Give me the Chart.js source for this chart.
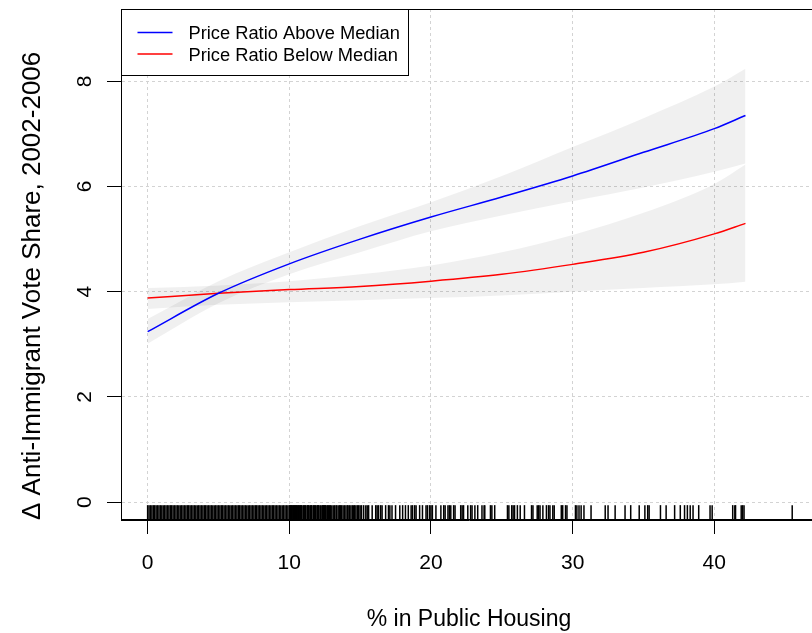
<!DOCTYPE html>
<html>
<head>
<meta charset="utf-8">
<script src="https://cdn.jsdelivr.net/npm/chart.js@4"></script>
<style>
  html, body { margin: 0; padding: 0; background: #fff; width: 812px; height: 633px; overflow: hidden; }
  canvas { display: block; }
</style>
</head>
<body>
<canvas id="plot" width="826" height="633"></canvas>
<script>
// fitted curves, x = % in public housing
const xs = [0, 5, 10, 15, 20, 25, 30, 35, 40, 42.2];
const aboveFit = [3.24, 3.97, 4.53, 5.0, 5.42, 5.8, 6.2, 6.65, 7.1, 7.35];
const aboveHi  = [3.48, 4.2, 4.75, 5.25, 5.7, 6.2, 6.75, 7.3, 7.9, 8.24];
const aboveLo  = [3.01, 3.78, 4.33, 4.75, 5.15, 5.45, 5.72, 5.98, 6.28, 6.44];
const belowFit = [3.88, 3.97, 4.04, 4.1, 4.2, 4.33, 4.52, 4.75, 5.1, 5.3];
const belowHi  = [4.07, 4.12, 4.2, 4.33, 4.5, 4.75, 5.08, 5.5, 6.05, 6.42];
const belowLo  = [3.67, 3.75, 3.8, 3.84, 3.88, 3.93, 4.0, 4.07, 4.14, 4.19];

// rug of observed x values
const rugX = [
  0,0.1,0.2,0.3,0.4,0.5,0.6,0.7,0.8,0.9,1,1.1,1.2,1.3,1.4,1.5,1.6,1.7,1.8,1.9,
  2,2.1,2.2,2.3,2.4,2.5,2.6,2.7,2.8,2.9,3,3.1,3.2,3.3,3.4,3.5,3.6,3.7,3.8,3.9,
  4,4.1,4.2,4.3,4.4,4.5,4.6,4.7,4.8,4.9,5,5.1,5.2,5.3,5.4,5.5,5.6,5.7,5.8,5.9,
  6,6.1,6.2,6.3,6.4,6.5,6.6,6.7,6.8,6.9,7,7.1,7.2,7.3,7.4,7.5,7.6,7.7,7.8,7.9,
  8,8.1,8.2,8.3,8.4,8.5,8.6,8.7,8.8,8.9,9,9.1,9.2,9.3,9.4,9.5,9.6,9.7,9.8,9.9,10,
  10.05,10.1,10.15,10.2,10.25,10.3,10.35,10.4,10.45,10.5,10.55,10.6,10.65,10.7,10.75,10.8,10.85,
  10.9,11.0,11.05,11.1,11.15,11.25,11.3,11.35,11.4,11.5,11.55,11.6,11.7,11.75,11.8,11.85,11.95,
  12.0,12.05,12.1,12.2,12.3,12.35,12.4,12.45,12.5,12.55,12.6,12.7,12.75,12.85,12.9,
  13.0,13.1,13.2,13.3,13.35,13.45,13.55,13.6,13.7,13.8,13.9,14.0,14.1,14.15,14.25,14.35,14.45,
  14.55,14.6,14.7,14.8,14.9,15.0,15.1,15.25,15.4,15.5,15.6,15.85,16.1,16.2,
  16.3,16.45,16.55,16.8,17.0,17.1,17.25,17.5,17.8,18.0,18.2,18.4,18.6,18.7,18.85,18.95,19.2,19.4,
  19.65,19.75,19.9,20.0,20.1,20.35,20.7,20.9,21.0,21.2,21.3,21.4,21.6,21.7,22.1,22.2,22.3,22.6,
  22.8,22.9,23.1,23.3,23.6,23.75,23.8,24.2,24.3,24.5,25.4,25.5,25.7,25.8,25.9,26.1,26.3,26.6,27.1,
  27.2,27.5,27.6,27.7,27.9,28.15,28.3,28.4,28.6,28.7,29.2,29.3,29.5,29.6,30.2,30.3,30.45,30.6,
  30.8,31.3,32.3,32.5,33.0,33.7,34.1,34.7,35.1,35.3,35.4,36.2,36.6,37.2,37.6,37.9,38.1,38.3,
  38.5,38.9,39.7,39.85,41.3,41.45,41.5,41.9,42.0,42.1,45.5
];

const legendNames = ['Price Ratio Above Median', 'Price Ratio Below Median'];
const lineColors = ['#0000ff', '#ff0000'];

const pts = arr => xs.map((x, i) => ({ x: x, y: arr[i] }));
const FONT = '"Liberation Sans", Arial, sans-serif';

// box around plot + legend in top-left corner (R style)
const frameAndLegend = {
  id: 'frameAndLegend',
  afterDraw(chart) {
    const { ctx, chartArea: a } = chart;
    ctx.save();
    ctx.strokeStyle = '#000';
    ctx.lineWidth = 1;
    ctx.strokeRect(Math.round(a.left) + 0.5, Math.round(a.top) + 0.5,
                   Math.round(a.right - a.left) - 1, Math.round(a.bottom - a.top) - 1);

    const bx = Math.round(a.left) + 0.5, by = Math.round(a.top) + 0.5;
    ctx.fillStyle = '#fff';
    ctx.fillRect(bx, by, 287, 66);
    ctx.strokeRect(bx, by, 287, 66);

    ctx.font = '18.3px ' + FONT;
    ctx.textBaseline = 'alphabetic';
    ctx.textAlign = 'left';
    legendNames.forEach((name, i) => {
      const ly = by + 23 + i * 21.5;
      ctx.strokeStyle = lineColors[i];
      ctx.lineWidth = 1.5;
      ctx.beginPath();
      ctx.moveTo(bx + 16, ly);
      ctx.lineTo(bx + 51, ly);
      ctx.stroke();
      ctx.fillStyle = '#000';
      ctx.fillText(name, bx + 67, ly + 6.5);
    });
    ctx.restore();
  }
};

const gridOpts = {
  color: '#d3d3d3',
  lineWidth: 1,
  drawTicks: true,
  tickLength: 14,
  tickColor: '#000',
  tickWidth: 1,
  tickBorderDash: []
};
const borderOpts = { display: true, color: '#000', width: 1, dash: [3, 3] };

new Chart(document.getElementById('plot'), {
  type: 'line',
  data: {
    datasets: [
      { label: legendNames[0], data: pts(aboveFit), borderColor: lineColors[0], borderWidth: 1.5,
        pointRadius: 0, fill: false, cubicInterpolationMode: 'monotone' },
      { label: legendNames[1], data: pts(belowFit), borderColor: lineColors[1], borderWidth: 1.5,
        pointRadius: 0, fill: false, cubicInterpolationMode: 'monotone' },
      { data: pts(aboveHi), borderWidth: 0, pointRadius: 0, fill: '+1',
        backgroundColor: 'rgba(0,0,0,0.06)', cubicInterpolationMode: 'monotone' },
      { data: pts(aboveLo), borderWidth: 0, pointRadius: 0, fill: false,
        cubicInterpolationMode: 'monotone' },
      { data: pts(belowHi), borderWidth: 0, pointRadius: 0, fill: '+1',
        backgroundColor: 'rgba(0,0,0,0.06)', cubicInterpolationMode: 'monotone' },
      { data: pts(belowLo), borderWidth: 0, pointRadius: 0, fill: false,
        cubicInterpolationMode: 'monotone' },
      { type: 'scatter', data: rugX.map(x => ({ x: x, y: -0.2 })), showLine: false,
        pointStyle: 'line', rotation: 90, pointRadius: 7.5, pointBorderWidth: 1.5,
        pointBorderColor: '#000', pointBackgroundColor: '#000' }
    ]
  },
  options: {
    responsive: false,
    animation: false,
    events: [],
    layout: { padding: { top: 7, left: 0, right: 0, bottom: 0 } },
    plugins: { legend: { display: false }, tooltip: { enabled: false } },
    scales: {
      x: {
        type: 'linear',
        min: -1.88,
        max: 47.25,
        grid: gridOpts,
        border: borderOpts,
        ticks: { stepSize: 10, includeBounds: false, padding: 17, color: '#000',
                 font: { family: FONT, size: 21 }, maxRotation: 0 },
        title: { display: true, text: '% in Public Housing', color: '#000',
                 font: { family: FONT, size: 23 }, padding: { top: 0, bottom: 0 } },
        afterFit(scale) { scale.height = 113; scale.paddingLeft = 0; scale.paddingRight = 0; }
      },
      y: {
        type: 'linear',
        min: -0.34,
        max: 9.375,
        grid: gridOpts,
        border: borderOpts,
        ticks: { stepSize: 2, includeBounds: false, padding: 16, color: '#000',
                 minRotation: 90, maxRotation: 90, crossAlign: 'center',
                 font: { family: FONT, size: 21 } },
        title: { display: true, text: 'Δ Anti-Immigrant Vote Share, 2002-2006', color: '#000',
                 align: 'start',
                 font: { family: FONT, size: 26 }, padding: { top: 17, bottom: 0 } },
        afterFit(scale) { scale.width = 121; scale.paddingTop = 0; scale.paddingBottom = 0; }
      }
    }
  },
  plugins: [frameAndLegend]
});
</script>
</body>
</html>
